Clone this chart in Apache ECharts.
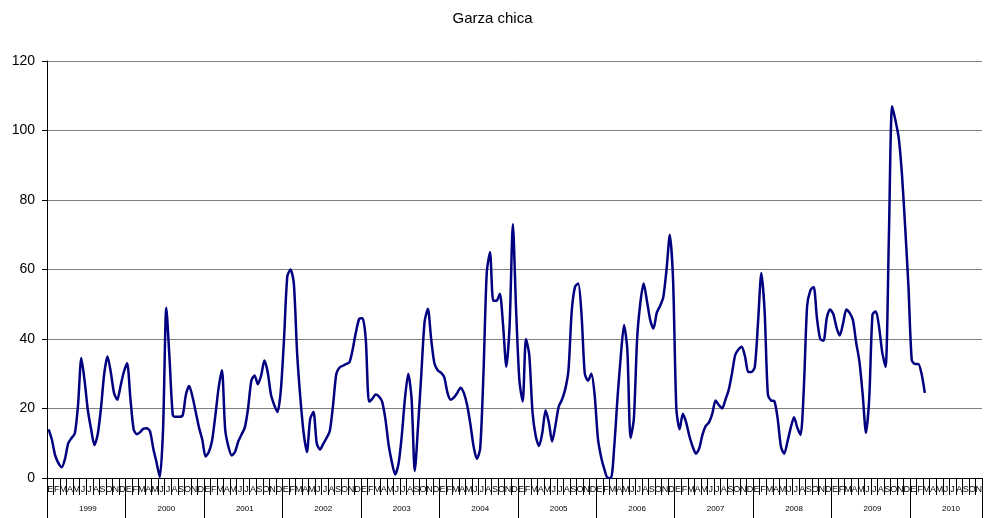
<!DOCTYPE html>
<html>
<head>
<meta charset="utf-8">
<script src="https://cdn.jsdelivr.net/npm/echarts@6/dist/echarts.min.js"></script>
<style>
html,body{margin:0;padding:0;background:#fff;}
#chart{width:985px;height:518px;}
</style>
</head>
<body>
<div id="chart"></div>
<script>
// ---- data ----
const title = 'Garza chica';
const years = ['1999','2000','2001','2002','2003','2004','2005','2006','2007','2008','2009','2010'];
const monthLetters = ['E','F','M','A','M','J','J','A','S','O','N','D'];
const visibleMonths = 143; // Jan 1999 .. Nov 2010 shown on the axis
const yTicks = [0, 20, 40, 60, 80, 100, 120];

// half-monthly values (two per month)
const v1999 = [14,11,6.5,4.3,3.1,5.5,10,11.5,12.8,21,34.5,28,19.5,14,9.5,12.5,20,30,35,30.5,24.5,22.5,26.5,30.5];
const v2000 = [33,23,14,12.6,13.2,14.2,14.3,13.5,8.5,4.5,0.3,14,49,34,18,17.6,17.6,18,24,26.5,23.4,19,14.5,11];
const v2001 = [6.2,7.5,10.8,18,26,31,14,9,6.5,7.5,10.5,12.5,14.5,20,28,29.5,27,29.5,33.8,30.5,24,21,19,25];
const v2002 = [40,58,60,56,36,23,13,7.5,17,19,10,8.2,9.8,11.5,13.5,21,30,31.8,32.3,32.8,33.3,37,42,45.8];
const v2003 = [46,40,22,22.8,24,23.5,22,17,9.5,4.5,1,4,12,23,30,23,2,15,30,45,48.7,40,33,31];
const v2004 = [30.3,29,24.5,22.5,23.2,24.5,26,24.5,21,15.5,9,5.5,8.5,30,59,65,51,51,53,44,32,44,73,48];
const v2005 = [28,22,40,35.5,19,12,9.2,13,19.5,16,10.5,15,20.5,22.5,25.5,31,48,55,56,47,30,28,30,24];
const v2006 = [11.5,6,2.5,0,0,9,23,35,44,37,11.5,17,40,50.5,56,51,45.5,43,47.5,49.5,52,60,70,57];
const v2007 = [20,14,18.5,16,12,9,7,8.5,12.5,15,16,18.5,22.3,21,20,22.5,25.3,30,35.4,37,37.8,35,30.5,30.5];
const v2008 = [32,45,59,48,24,22.3,22.1,17,9,7,10.5,14.5,17.5,14.5,12.4,26,49.5,54,55,46,40,39.5,46,48.5];
const v2009 = [47.2,43.3,41,44.5,48.5,47.5,45.5,39,33.5,24,13,23,47,48,43.5,36,32,69,107,103,98,87.5,72,55];
const v2010 = [34,32.8,32.8,30,24.5];

const values = [].concat(v1999,v2000,v2001,v2002,v2003,v2004,v2005,v2006,v2007,v2008,v2009,v2010);

// categories built from the arrays above
const monthCats = [];
for (let i = 0; i < visibleMonths; i++) {
  monthCats.push(years[Math.floor(i / 12)] + '-' + (i % 12 + 1));
}
const halfCats = [];
monthCats.forEach(m => { halfCats.push(m + 'a'); halfCats.push(m + 'b'); });

const FONT = 'Liberation Sans, Arial, Helvetica, sans-serif';
const chart = echarts.init(document.getElementById('chart'), null, {renderer: 'canvas'});
chart.setOption({
  animation: false,
  backgroundColor: '#ffffff',
  title: {
    text: title,
    left: 'center',
    top: 6,
    textStyle: {fontFamily: FONT, fontSize: 15, fontWeight: 'normal', color: '#000'}
  },
  grid: {left: 47, right: 0, top: 61, bottom: 40, containLabel: false},
  xAxis: [
    {
      type: 'category', data: halfCats, boundaryGap: true, show: false
    },
    {
      type: 'category', data: monthCats, boundaryGap: true, position: 'bottom',
      axisLine: {show: true, lineStyle: {color: '#000', width: 1}},
      axisTick: {show: true, interval: 0, length: 17, lineStyle: {color: '#000', width: 1}},
      axisLabel: {
        show: true, interval: 0, margin: 7, fontSize: 9, color: '#000', fontFamily: FONT,
        formatter: (v) => monthLetters[monthCats.indexOf(v) % 12]
      },
      splitLine: {show: false}
    },
    {
      type: 'category', data: halfCats, boundaryGap: true, position: 'bottom',
      axisLine: {show: false},
      axisTick: {show: true, length: 40, interval: (i) => i % 24 === 0, lineStyle: {color: '#000', width: 1}},
      axisLabel: {
        show: true, margin: 27, fontSize: 8, color: '#000', fontFamily: FONT,
        interval: (i) => i % 24 === 12,
        formatter: (v) => v.slice(0, 4)
      },
      splitLine: {show: false}
    }
  ],
  yAxis: {
    type: 'value', min: yTicks[0], max: yTicks[yTicks.length - 1], interval: yTicks[1] - yTicks[0],
    axisLine: {show: true, lineStyle: {color: '#000', width: 1}},
    axisTick: {show: true, length: 5, lineStyle: {color: '#000'}},
    axisLabel: {margin: 12, fontSize: 14, color: '#000', fontFamily: FONT},
    splitLine: {show: true, lineStyle: {color: '#808080', width: 1}}
  },
  series: [{
    type: 'line',
    xAxisIndex: 0,
    data: values,
    showSymbol: false,
    smooth: 0.25,
    lineStyle: {color: '#000080', width: 2.5},
    itemStyle: {color: '#000080'}
  }]
});
</script>
</body>
</html>
